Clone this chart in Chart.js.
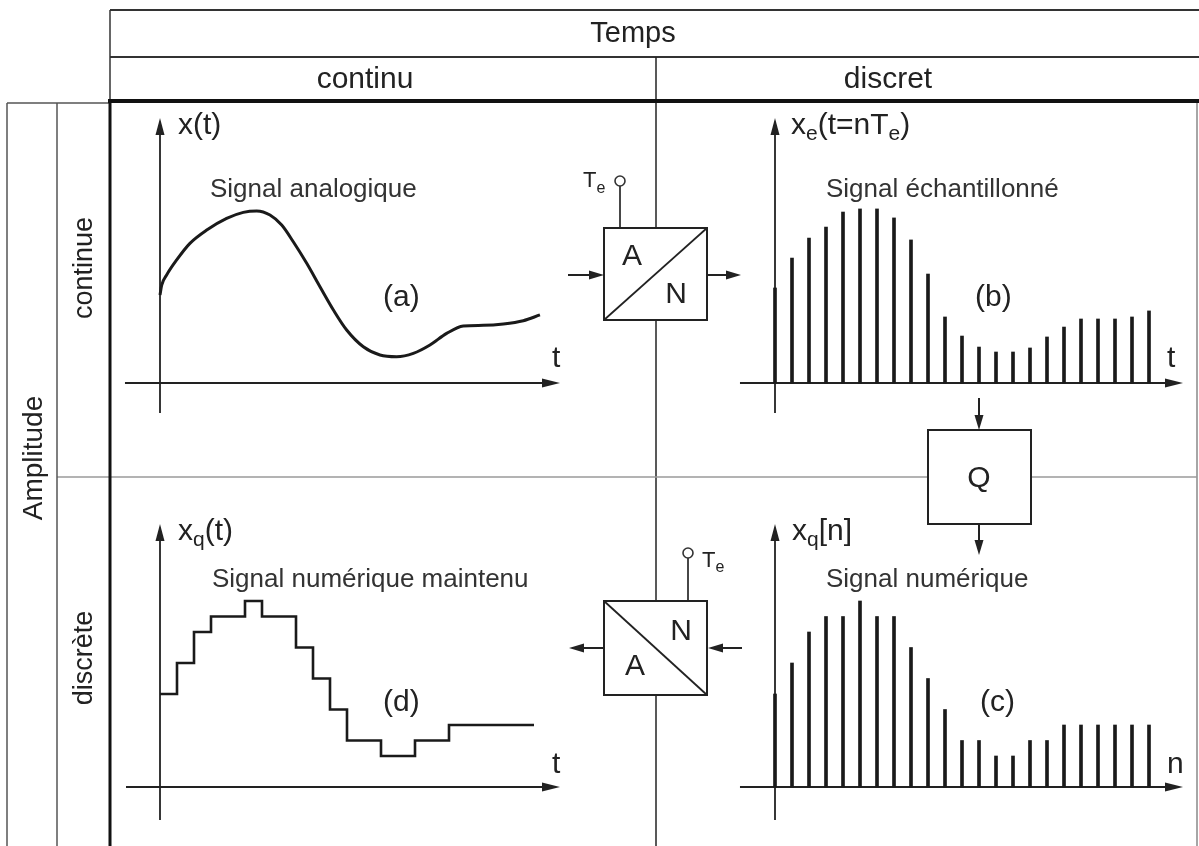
<!DOCTYPE html>
<html><head><meta charset="utf-8">
<script src="https://cdn.jsdelivr.net/npm/chart.js@4.4.0/dist/chart.umd.min.js"></script>
<style>
html,body{margin:0;padding:0;background:#fff;width:1199px;height:846px;overflow:hidden;}
canvas{position:absolute;}
#ov{position:absolute;left:0;top:0;z-index:2;}
#ov text{font-family:"Liberation Sans",Arial,Helvetica,sans-serif;fill:#222;}
#ov .sig{fill:#333;}
</style></head><body>
<canvas id="ca"></canvas><canvas id="cb"></canvas><canvas id="cc"></canvas><canvas id="cd"></canvas>
<svg id="ov" width="1199" height="846" xmlns="http://www.w3.org/2000/svg">
  <!-- table grid -->
  <g stroke-linecap="butt" fill="none">
    <line x1="110" y1="10" x2="1199" y2="10" stroke="#333" stroke-width="2"/>
    <line x1="110" y1="57" x2="1199" y2="57" stroke="#333" stroke-width="2"/>
    <line x1="110" y1="10" x2="110" y2="101" stroke="#333" stroke-width="1.5"/>
    <line x1="656" y1="57" x2="656" y2="846" stroke="#222" stroke-width="1.5"/>
    <line x1="1197" y1="101" x2="1197" y2="846" stroke="#888" stroke-width="1.5"/>
    <line x1="57" y1="477" x2="1197" y2="477" stroke="#9a9a9a" stroke-width="1.5"/>
    <line x1="7" y1="103" x2="110" y2="103" stroke="#555" stroke-width="1.5"/>
    <line x1="7" y1="103" x2="7" y2="846" stroke="#555" stroke-width="1.5"/>
    <line x1="57" y1="103" x2="57" y2="846" stroke="#555" stroke-width="1.5"/>
    <line x1="108" y1="101" x2="1199" y2="101" stroke="#111" stroke-width="4"/>
    <line x1="110" y1="100" x2="110" y2="846" stroke="#111" stroke-width="3"/>
  </g>
  <!-- header texts -->
  <text x="633" y="42" font-size="29" text-anchor="middle">Temps</text>
  <text x="365" y="88" font-size="30" text-anchor="middle">continu</text>
  <text x="888" y="88" font-size="30" text-anchor="middle">discret</text>
  <text transform="translate(42,458) rotate(-90)" font-size="28" text-anchor="middle">Amplitude</text>
  <text transform="translate(92,268) rotate(-90)" font-size="27" text-anchor="middle">continue</text>
  <text transform="translate(92,658) rotate(-90)" font-size="27" text-anchor="middle">discrète</text>

  <!-- A/N box 1 -->
  <line x1="620" y1="186" x2="620" y2="228" stroke="#333" stroke-width="1.8"/>
  <circle cx="620" cy="181" r="5" fill="#fff" stroke="#333" stroke-width="1.6"/>
  <text x="583" y="187" font-size="22">T<tspan font-size="16" dy="6">e</tspan></text>
  <rect x="604" y="228" width="103" height="92" fill="#fff" stroke="#222" stroke-width="2"/>
  <line x1="604" y1="320" x2="707" y2="228" stroke="#222" stroke-width="1.8"/>
  <text x="632" y="265" font-size="30" text-anchor="middle">A</text>
  <text x="676" y="303" font-size="30" text-anchor="middle">N</text>
  <line x1="568" y1="275" x2="592" y2="275" stroke="#222" stroke-width="2"/>
  <polygon points="604,275 589,270.5 589,279.5" fill="#222"/>
  <line x1="707" y1="275" x2="728" y2="275" stroke="#222" stroke-width="2"/>
  <polygon points="741,275 726,270.5 726,279.5" fill="#222"/>

  <!-- A/N box 2 -->
  <line x1="688" y1="558" x2="688" y2="601" stroke="#333" stroke-width="1.8"/>
  <circle cx="688" cy="553" r="5" fill="#fff" stroke="#333" stroke-width="1.6"/>
  <text x="702" y="567" font-size="22">T<tspan font-size="16" dy="5">e</tspan></text>
  <rect x="604" y="601" width="103" height="94" fill="#fff" stroke="#222" stroke-width="2"/>
  <line x1="604" y1="601" x2="707" y2="695" stroke="#222" stroke-width="1.8"/>
  <text x="681" y="640" font-size="30" text-anchor="middle">N</text>
  <text x="635" y="675" font-size="30" text-anchor="middle">A</text>
  <line x1="742" y1="648" x2="720" y2="648" stroke="#222" stroke-width="2"/>
  <polygon points="708,648 723,643.5 723,652.5" fill="#222"/>
  <line x1="604" y1="648" x2="582" y2="648" stroke="#222" stroke-width="2"/>
  <polygon points="569,648 584,643.5 584,652.5" fill="#222"/>

  <!-- Q box -->
  <rect x="928" y="430" width="103" height="94" fill="#fff" stroke="#222" stroke-width="2"/>
  <text x="979" y="487" font-size="30" text-anchor="middle">Q</text>
  <line x1="979" y1="398" x2="979" y2="418" stroke="#222" stroke-width="2"/>
  <polygon points="979,430 974.5,415 983.5,415" fill="#222"/>
  <line x1="979" y1="524" x2="979" y2="542" stroke="#222" stroke-width="2"/>
  <polygon points="979,555 974.5,540 983.5,540" fill="#222"/>

  <!-- plot labels -->
  <text x="178" y="134" font-size="30">x(t)</text>
  <text x="210" y="197" font-size="26" class="sig">Signal analogique</text>
  <text x="383" y="306" font-size="30">(a)</text>
  <text x="552" y="367" font-size="30">t</text>

  <text x="791" y="134" font-size="30">x<tspan font-size="21" dy="6">e</tspan><tspan dy="-6">(t=nT</tspan><tspan font-size="21" dy="6">e</tspan><tspan dy="-6">)</tspan></text>
  <text x="826" y="197" font-size="26" class="sig">Signal échantillonné</text>
  <text x="975" y="306" font-size="30">(b)</text>
  <text x="1167" y="367" font-size="30">t</text>

  <text x="792" y="540" font-size="30">x<tspan font-size="21" dy="6">q</tspan><tspan dy="-6">[n]</tspan></text>
  <text x="826" y="587" font-size="26" class="sig">Signal numérique</text>
  <text x="980" y="711" font-size="30">(c)</text>
  <text x="1167" y="773" font-size="30">n</text>

  <text x="178" y="540" font-size="30">x<tspan font-size="21" dy="6">q</tspan><tspan dy="-6">(t)</tspan></text>
  <text x="212" y="587" font-size="26" class="sig">Signal numérique maintenu</text>
  <text x="383" y="711" font-size="30">(d)</text>
  <text x="552" y="773" font-size="30">t</text>
</svg>
<script>
// ---- data (time in sample periods, amplitude in quantisation steps) ----
const analogT = [0, 0.10, 0.39, 0.98, 1.76, 2.75, 3.92, 4.90, 5.69, 6.47, 7.16, 7.84, 8.63, 9.41, 10.20, 10.98, 11.96, 12.94, 13.92, 14.90, 15.88, 16.86, 17.84, 19.02, 20.20, 21.37, 22.35];
const analogX = [5.68, 6.32, 6.97, 7.94, 9.01, 9.87, 10.62, 11.01, 11.10, 10.84, 10.19, 9.11, 7.72, 6.21, 4.71, 3.42, 2.34, 1.81, 1.70, 1.91, 2.45, 3.20, 3.68, 3.72, 3.81, 4.02, 4.39];
const sampleN = [0,1,2,3,4,5,6,7,8,9,10,11,12,13,14,15,16,17,18,19,20,21,22];
const sampledX = [6.13, 8.06, 9.35, 10.06, 11.03, 11.23, 11.23, 10.65, 9.23, 7.03, 4.26, 3.03, 2.32, 2.00, 2.00, 2.26, 2.97, 3.61, 4.13, 4.13, 4.13, 4.26, 4.65];
const quantX = [6, 8, 10, 11, 11, 12, 11, 11, 9, 7, 5, 3, 3, 2, 2, 3, 3, 4, 4, 4, 4, 4, 4];

// ---- layout ----
const P = 17, U = 15.5; // px per sample period, px per quantisation step
const INK = '#1a1a1a';

const arrowAxes = {
  id: 'arrowAxes',
  beforeDatasetsDraw(chart, args, o) {
    const {ctx, scales: {x, y}} = chart;
    const x0 = x.getPixelForValue(0), y0 = y.getPixelForValue(0);
    const xa = x.getPixelForValue(o.xFrom), xb = x.getPixelForValue(o.xTo);
    const ya = y.getPixelForValue(o.yFrom), yb = y.getPixelForValue(o.yTo);
    ctx.save();
    ctx.strokeStyle = '#222'; ctx.fillStyle = '#222'; ctx.lineWidth = 1.8;
    ctx.beginPath();
    ctx.moveTo(xa, y0); ctx.lineTo(xb - 10, y0);
    ctx.moveTo(x0, ya); ctx.lineTo(x0, yb + 10);
    ctx.stroke();
    ctx.beginPath(); ctx.moveTo(xb, y0); ctx.lineTo(xb - 18, y0 - 4.5); ctx.lineTo(xb - 18, y0 + 4.5); ctx.closePath(); ctx.fill();
    ctx.beginPath(); ctx.moveTo(x0, yb); ctx.lineTo(x0 - 4.5, yb + 17); ctx.lineTo(x0 + 4.5, yb + 17); ctx.closePath(); ctx.fill();
    ctx.restore();
  }
};

function build(id, box, origin, axes, type, datasets) {
  const c = document.getElementById(id);
  c.width = box.w; c.height = box.h;
  c.style.left = box.x + 'px'; c.style.top = box.y + 'px';
  c.style.width = box.w + 'px'; c.style.height = box.h + 'px';
  return new Chart(c, {
    type,
    data: {datasets},
    plugins: [arrowAxes],
    options: {
      responsive: false, animation: false, events: [],
      layout: {padding: 0},
      plugins: {legend: {display: false}, tooltip: {enabled: false}, arrowAxes: axes},
      scales: {
        x: {type: 'linear', display: false, bounds: 'data', offset: false,
            min: (box.x - origin.x) / P, max: (box.x + box.w - origin.x) / P},
        y: {type: 'linear', display: false, bounds: 'data',
            min: (origin.y - (box.y + box.h)) / U, max: (origin.y - box.y) / U}
      }
    }
  });
}

const axTop = {xFrom: -2.06, xTo: 23.53, yFrom: -1.94, yTo: 17.1};
const axTopR = {xFrom: -2.06, xTo: 24.0, yFrom: -1.94, yTo: 17.1};
const axBotR = {xFrom: -2.06, xTo: 24.0, yFrom: -2.13, yTo: 16.97};
const axBot = {xFrom: -2.0, xTo: 23.53, yFrom: -2.13, yTo: 16.97};

// (a) analog signal
build('ca', {x: 112, y: 104, w: 542, h: 372}, {x: 160, y: 383}, axTop, 'line', [{
  data: analogT.map((t, i) => ({x: t, y: analogX[i]})),
  borderColor: INK, borderWidth: 3, pointRadius: 0, cubicInterpolationMode: 'monotone', fill: false
}]);

// (b) sampled signal
build('cb', {x: 658, y: 104, w: 537, h: 372}, {x: 775, y: 383}, axTopR, 'bar', [{
  data: sampleN.map((n, i) => ({x: n, y: sampledX[i]})),
  backgroundColor: INK, barThickness: 3, borderWidth: 0
}]);

// (c) digital signal
build('cc', {x: 658, y: 479, w: 537, h: 367}, {x: 775, y: 787}, axBotR, 'bar', [{
  data: sampleN.map((n, i) => ({x: n, y: quantX[i]})),
  backgroundColor: INK, barThickness: 3, borderWidth: 0
}]);

// (d) held digital signal
build('cd', {x: 112, y: 479, w: 542, h: 367}, {x: 160, y: 787}, axBot, 'line', [{
  data: sampleN.map((n, i) => ({x: n, y: quantX[i]})),
  borderColor: INK, borderWidth: 2.6, pointRadius: 0, stepped: true, fill: false
}]);
</script>
</body></html>
